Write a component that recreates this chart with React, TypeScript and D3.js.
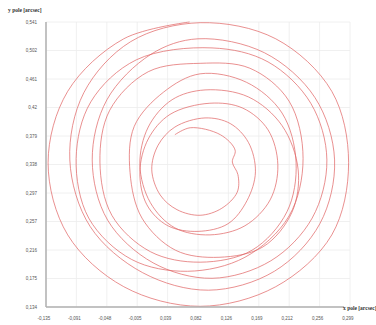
import React from "react";
import * as d3 from "d3";

const xTicks = [-0.135, -0.0916, -0.0482, -0.0048, 0.0386, 0.082, 0.1254, 0.1688, 0.2122, 0.2556, 0.299];
const xTickLabels = ["-0,135", "-0,091", "-0,048", "-0,005", "0,039", "0,082", "0,126", "0,169", "0,212", "0,256", "0,299"];
const yTicks = [0.134, 0.1747, 0.2154, 0.2561, 0.2968, 0.3375, 0.3782, 0.4189, 0.4596, 0.5003, 0.541];
const yTickLabels = ["0,134", "0,175", "0,216", "0,257", "0,297", "0,338", "0,379", "0,42", "0,461", "0,502", "0,541"];

// pole path, x pole [arcsec]
const xPole = [
  0.049, 0.071,
  0.114, 0.135, 0.131, 0.139, 0.138, 0.116, 0.085, 0.052, 0.028, 0.016, 0.025, 0.049,
  0.092, 0.128, 0.154, 0.164, 0.152, 0.125, 0.082, 0.039, 0.009, -0.001, 0.011, 0.042,
  0.099, 0.146, 0.182, 0.196, 0.185, 0.149, 0.099, 0.049, 0.014, -0.001, 0.011, 0.045,
  0.092, 0.154, 0.202, 0.225, 0.216, 0.175, 0.112, 0.050, 0.002, -0.015, -0.009, 0.033,
  0.085, 0.151, 0.202, 0.222, 0.209, 0.159, 0.085, 0.014, -0.041, -0.058, -0.044, 0.011,
  0.085, 0.156, 0.212, 0.232, 0.212, 0.149, 0.067, -0.013, -0.074, -0.092, -0.071, -0.006,
  0.102, 0.182, 0.243, 0.266, 0.245, 0.186, 0.102, 0.018, -0.047, -0.069, -0.048, 0.015,
  0.082, 0.177, 0.249, 0.277, 0.256, 0.191, 0.097, 0.003, -0.072, -0.101, -0.081, -0.014,
  0.085, 0.193, 0.273, 0.297, 0.273, 0.193, 0.085, -0.024, -0.104, -0.132, -0.104, -0.024,
  0.070,
];
// pole path, y pole [arcsec]
const yPole = [
  0.380, 0.390,
  0.380, 0.358, 0.341, 0.323, 0.298, 0.275, 0.265, 0.273, 0.294, 0.330, 0.365, 0.391,
  0.404, 0.396, 0.369, 0.327, 0.286, 0.253, 0.242, 0.250, 0.280, 0.327, 0.374, 0.409,
  0.425, 0.418, 0.387, 0.337, 0.287, 0.250, 0.237, 0.247, 0.283, 0.337, 0.391, 0.430,
  0.444, 0.434, 0.393, 0.330, 0.269, 0.220, 0.205, 0.215, 0.261, 0.326, 0.392, 0.441,
  0.467, 0.455, 0.411, 0.341, 0.270, 0.215, 0.198, 0.213, 0.265, 0.341, 0.415, 0.470,
  0.482, 0.475, 0.428, 0.346, 0.264, 0.205, 0.185, 0.202, 0.261, 0.346, 0.427, 0.487,
  0.504, 0.484, 0.425, 0.344, 0.261, 0.200, 0.175, 0.197, 0.258, 0.344, 0.430, 0.495,
  0.517, 0.497, 0.433, 0.344, 0.253, 0.185, 0.158, 0.183, 0.249, 0.344, 0.440, 0.513,
  0.540, 0.517, 0.442, 0.340, 0.237, 0.163, 0.135, 0.163, 0.237, 0.340, 0.442, 0.517,
  0.541,
];

const W = 376;
const H = 325;

export default function App() {
  const x = d3.scaleLinear().domain([xTicks[0], xTicks[xTicks.length - 1]]).range([46, 350]);
  const y = d3.scaleLinear().domain([yTicks[0], yTicks[yTicks.length - 1]]).range([307, 22]);
  const pts: [number, number][] = xPole.map((v, i) => [v, yPole[i]]);
  const line = d3
    .line<[number, number]>()
    .x((d) => x(d[0]))
    .y((d) => y(d[1]))
    .curve(d3.curveCatmullRom.alpha(0.5));
  const tickFont = "'Liberation Sans', Arial, sans-serif";
  const titleFont = "'Liberation Serif', 'Times New Roman', serif";
  return (
    <svg width={W} height={H} style={{ position: "absolute", left: 0, top: 0, background: "#fff" }}>
      <g>
        {xTicks.map((t, i) => (
          <line key={"gx" + i} x1={x(t)} x2={x(t)} y1={y.range()[1]} y2={y.range()[0]} stroke="#ececec" strokeWidth={0.8} />
        ))}
        {yTicks.map((t, i) => (
          <line key={"gy" + i} x1={x.range()[0]} x2={x.range()[1]} y1={y(t)} y2={y(t)} stroke="#ececec" strokeWidth={0.8} />
        ))}
      </g>
      <path d={line(pts) || ""} fill="none" stroke="#e06464" strokeWidth={0.8} strokeOpacity={0.9} />
      <line x1={46} x2={46} y1={22} y2={307} stroke="#b0b0b0" strokeWidth={1.5} />
      <line x1={46} x2={344} y1={307} y2={307} stroke="#b0b0b0" strokeWidth={1.5} />
      {yTicks.map((t, i) => (
        <text key={"ly" + i} x={37} y={y(t)} dy="0.35em" textAnchor="end" fontSize={4.5} fill="#555" fontFamily={tickFont}>
          {yTickLabels[i]}
        </text>
      ))}
      {xTicks.map((t, i) => (
        <text key={"lx" + i} x={x(t) - 2} y={320} textAnchor="middle" fontSize={4.5} fill="#555" fontFamily={tickFont}>
          {xTickLabels[i]}
        </text>
      ))}
      <text x={8} y={12} fontSize={5.5} fontWeight="bold" fill="#333" fontFamily={titleFont}>
        y pole [arcsec]
      </text>
      <text x={343} y={310} fontSize={5.5} fontWeight="bold" fill="#333" fontFamily={titleFont}>
        x pole [arcsec]
      </text>
    </svg>
  );
}
